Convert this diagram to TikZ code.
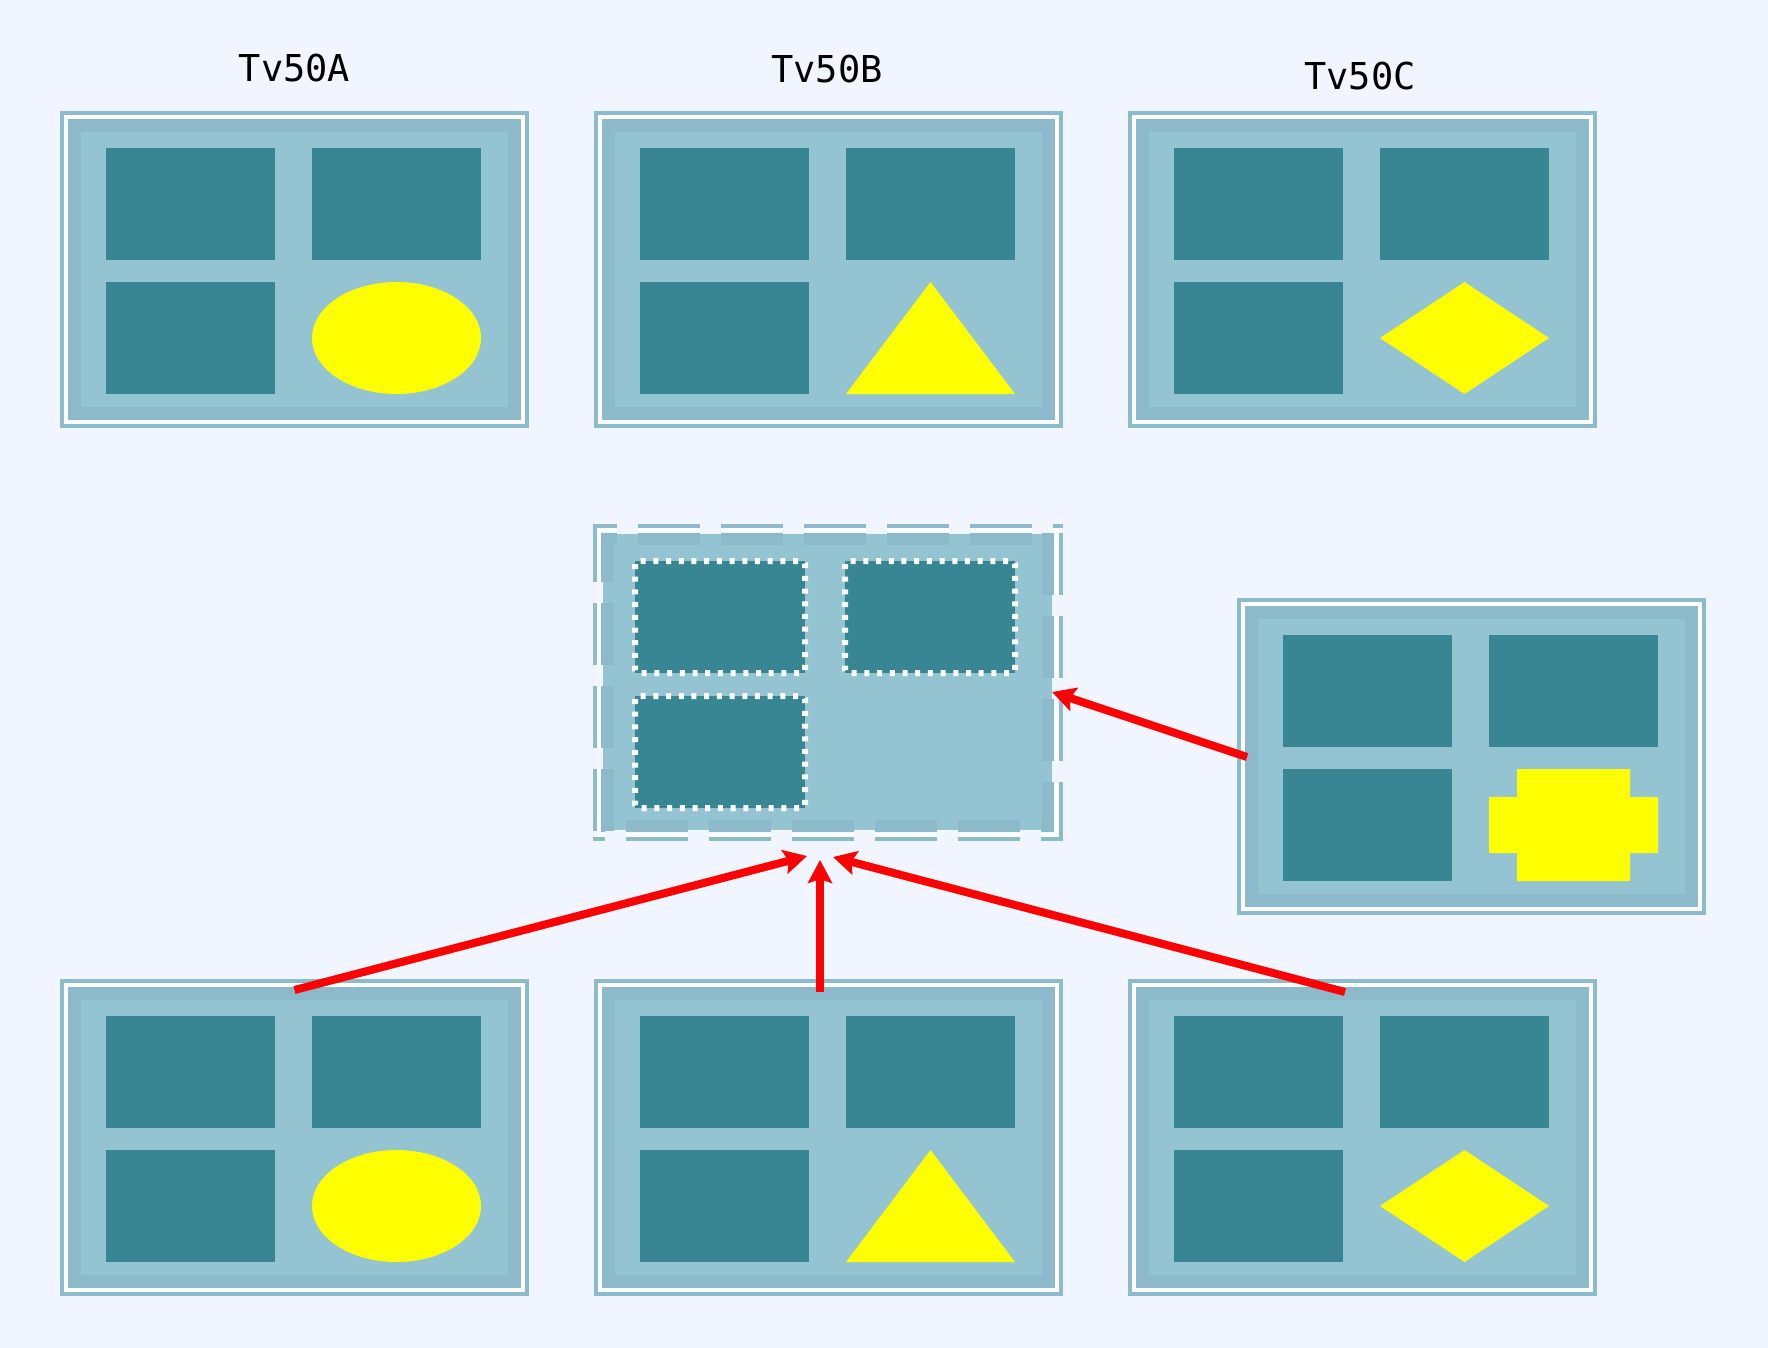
\documentclass[tikz,border=0pt]{standalone}
\usepackage{fontspec}
\newfontfamily\labelfont{DejaVu Sans Mono}
\usetikzlibrary{arrows.meta,calc}
\definecolor{bg}{RGB}{240,245,255}
\definecolor{edgeblue}{RGB}{140,188,204}
\definecolor{bandblue}{RGB}{140,186,202}
\definecolor{fillblue}{RGB}{148,196,210}
\definecolor{cellteal}{RGB}{56,133,148}
\definecolor{shapeyellow}{RGB}{255,255,0}
\definecolor{arrowred}{RGB}{255,0,0}
\tikzset{
  outerline/.style={draw=edgeblue, line width=4pt},
  innerline/.style={draw=white, line width=4pt},
  bandline/.style={draw=bandblue, line width=12.5pt},
  cellbox/.style={fill=cellteal},
  shapefill/.style={fill=shapeyellow},
  conn/.style={draw=arrowred, line width=8pt, -{Stealth[length=23pt,width=24pt,inset=4pt]}},
  dashp/.style={dash pattern=on 62pt off 21pt, dash phase=#1},
  dotborder/.style={draw=white, line width=6pt, dash pattern=on 5pt off 7.7pt, rounded corners=3pt},
  lbl/.style={font=\labelfont\fontsize{37}{44}\selectfont, inner sep=0pt, anchor=base},
  panelnode/.style={minimum width=469pt, minimum height=317pt, inner sep=0pt, outer sep=0pt}
}
% name, L, T
\newcommand\mkpanel[3]{%
  \node[panelnode] (#1) at (#2+234.5,#3+158.5) {};
  \fill[bandblue] (#2+8,#3+8) rectangle (#2+461,#3+309);
  \fill[fillblue] (#2+21,#3+21) rectangle (#2+448,#3+296);
  \draw[outerline] (#2+2,#3+2) rectangle (#2+467,#3+315);
  \draw[innerline] (#2+6,#3+6) rectangle (#2+463,#3+311);
  \fill[cellbox] (#2+46,#3+37) rectangle (#2+215,#3+149);
  \fill[cellbox] (#2+252,#3+37) rectangle (#2+421,#3+149);
  \fill[cellbox] (#2+46,#3+171) rectangle (#2+215,#3+283);
}
\newcommand\mkellipse[2]{\fill[shapefill] (#1+336.5,#2+227) ellipse [x radius=84.5, y radius=56];}
\newcommand\mktriangle[2]{\fill[shapefill] (#1+336.5,#2+171) -- (#1+421,#2+283) -- (#1+252,#2+283) -- cycle;}
\newcommand\mkdiamond[2]{\fill[shapefill] (#1+336.5,#2+171) -- (#1+421,#2+227) -- (#1+336.5,#2+283) -- (#1+252,#2+227) -- cycle;}
\newcommand\mkplus[2]{\fill[shapefill] (#1+280,#2+171) -- (#1+393,#2+171) -- (#1+393,#2+199) -- (#1+421,#2+199) -- (#1+421,#2+255) -- (#1+393,#2+255) -- (#1+393,#2+283) -- (#1+280,#2+283) -- (#1+280,#2+255) -- (#1+252,#2+255) -- (#1+252,#2+199) -- (#1+280,#2+199) -- cycle;}
\begin{document}
\begin{tikzpicture}[x=1pt,y=-1pt]
\fill[bg] (0,0) rectangle (1768,1348);
\useasboundingbox (0,0) rectangle (1768,1348);

% labels
\node[lbl] (la) at (294.5,82) {Tv50A};
\node[lbl] (lb) at (827,83) {Tv50B};
\node[lbl] (lc) at (1360,90) {Tv50C};

% top row
\mkpanel{ta}{60}{111}\mkellipse{60}{111}
\mkpanel{tb}{594}{111}\mktriangle{594}{111}
\mkpanel{tc}{1128}{111}\mkdiamond{1128}{111}

% bottom row
\mkpanel{ba}{60}{979}\mkellipse{60}{979}
\mkpanel{bb}{594}{979}\mktriangle{594}{979}
\mkpanel{bc}{1128}{979}\mkdiamond{1128}{979}

% right panel
\mkpanel{rp}{1237}{598}\mkplus{1237}{598}

% dashed target panel
\node[panelnode] (tp) at (828,682.5) {};
\fill[fillblue] (603,534) rectangle (1052,830);
% band
\draw[bandline, dashp=46pt] (601,539) -- (1054,539);
\draw[bandline, dashp=58pt] (601,826) -- (1054,826);
\draw[bandline, dashp=13pt] (607.5,533) -- (607.5,832);
\draw[bandline, dashp=0pt] (1048,533) -- (1048,832);
% white line
\draw[innerline, dashp=42pt] (597,530) -- (1059,530);
\draw[innerline, dashp=54pt] (597,835) -- (1059,835);
\draw[innerline, dashp=8pt] (599,528) -- (599,837);
\draw[innerline, dashp=78pt] (1057,528) -- (1057,837);
% outer line
\draw[outerline, dashp=38pt] (593,526) -- (1063,526);
\draw[outerline, dashp=50pt] (593,839) -- (1063,839);
\draw[outerline, dashp=4pt] (595,524) -- (595,841);
\draw[outerline, dashp=74pt] (1061,524) -- (1061,841);
% dotted cells
\fill[cellbox] (635,561) rectangle (805,673);
\draw[dotborder] (635,561) rectangle (805,673);
\fill[cellbox] (845,561) rectangle (1015,673);
\draw[dotborder] (845,561) rectangle (1015,673);
\fill[cellbox] (635,696) rectangle (805,808);
\draw[dotborder] (635,696) rectangle (805,808);

% connector targets
\coordinate (tgA) at (807,856);
\coordinate (tgB) at (820,860);
\coordinate (tgC) at (833,857);
\coordinate (tgR) at (1052,692);

\draw[conn] ($(ba.north)+(0,11)$) -- (tgA);
\draw[conn] ($(bb.north)+(-8.5,13)$) -- (tgB);
\draw[conn] ($(bc.north)+(-17.5,13)$) -- (tgC);
\draw[conn] ($(rp.west)+(10,0.5)$) -- (tgR);
\end{tikzpicture}
\end{document}
